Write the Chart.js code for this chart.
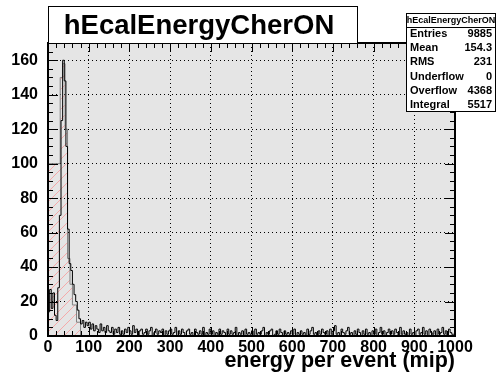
<!DOCTYPE html>
<html>
<head>
<meta charset="utf-8">
<script src="https://cdn.jsdelivr.net/npm/chart.js@4/dist/chart.umd.min.js"></script>
<style>
  html, body { margin: 0; padding: 0; background: #fff; }
  #wrap { width: 496px; height: 374px; position: relative; }
</style>
</head>
<body>
<div id="wrap"><canvas id="hist" width="496" height="374"></canvas></div>
<script>
// histogram contents, 4 mip per bin, 0..1000 mip
const binWidth = 4;
const counts = [
  22, 14, 27, 16, 25, 12, 9, 28, 70, 125, 160, 148, 110, 62, 42, 38, 30, 24, 20, 15, 10, 7, 9, 5, 8,
  6, 8, 4, 7, 3, 6, 4, 2, 7, 3, 5, 2, 6, 3, 2, 5, 1, 4, 2, 5, 1, 3, 1, 4, 2,
  5, 3, 1, 6, 2, 4, 0, 3, 4, 1, 2, 4, 1, 3, 5, 0, 2, 4, 1, 3, 2, 4, 0, 3, 1,
  3, 4, 1, 2, 5, 0, 3, 1, 4, 2, 0, 3, 4, 1, 2, 0, 4, 2, 1, 3, 1, 5, 0, 2, 1,
  4, 1, 3, 0, 2, 1, 4, 1, 3, 2, 0, 4, 1, 3, 1, 2, 5, 0, 2, 1, 3, 0, 4, 1, 2,
  1, 3, 0, 4, 1, 2, 1, 3, 5, 0, 2, 1, 3, 4, 0, 1, 3, 1, 4, 2, 0, 3, 1, 2, 1,
  3, 1, 4, 0, 2, 1, 3, 1, 2, 0, 4, 1, 3, 5, 1, 2, 0, 3, 1, 4, 2, 1, 3, 0, 4,
  1, 3, 6, 1, 2, 0, 4, 2, 1, 3, 5, 1, 2, 0, 3, 1, 4, 2, 0, 3, 1, 4, 1, 2, 0,
  3, 1, 4, 0, 2, 5, 1, 3, 0, 2, 4, 1, 3, 1, 4, 2, 0, 5, 1, 3, 1, 2, 0, 4, 1,
  2, 0, 3, 4, 1, 2, 5, 1, 3, 0, 4, 2, 1, 3, 0, 4, 1, 2, 5, 1, 3, 0, 4, 2, 1
];

// coarse hatched copy around the peak (low edges + contents)
const coarseEdges = [0, 30, 36, 42, 48, 54, 60, 70, 80, 90];
const coarseCounts = [20, 100, 150, 158, 120, 45, 30, 18, 8, 0];

const xTicks = [0, 100, 200, 300, 400, 500, 600, 700, 800, 900, 1000];
const yTicks = [0, 20, 40, 60, 80, 100, 120, 140, 160];

const histTitle = 'hEcalEnergyCherON';
const statLabels = ['Entries', 'Mean', 'RMS', 'Underflow', 'Overflow', 'Integral'];
const statValues = ['9885', '154.3', '231', '0', '4368', '5517'];

const FONT = '"Liberation Sans", Arial, Helvetica, sans-serif';

// step points: each bin starts at its low edge, last point closes the range
function stepPoints(edges, vals, hi) {
  const pts = edges.map((e, i) => ({ x: e, y: vals[i] }));
  pts.push({ x: hi, y: vals[vals.length - 1] });
  return pts;
}
const histEdges = counts.map((c, i) => i * binWidth);
const histPts = stepPoints(histEdges, counts, 1000);
const coarsePts = stepPoints(coarseEdges, coarseCounts, 100);

// red diagonal hatch
function hatchPattern() {
  const c = document.createElement('canvas');
  c.width = 10; c.height = 10;
  const g = c.getContext('2d');
  g.strokeStyle = 'rgb(245,170,170)';
  g.lineWidth = 1;
  g.beginPath();
  g.moveTo(0, 10); g.lineTo(10, 0);
  g.moveTo(-1, 1); g.lineTo(1, -1);
  g.moveTo(9, 11); g.lineTo(11, 9);
  g.stroke();
  return g.createPattern(c, 'repeat');
}

const framePlugin = {
  id: 'frame',
  beforeDraw(chart) {
    const { ctx, chartArea: a } = chart;
    ctx.save();
    ctx.fillStyle = '#fff';
    ctx.fillRect(0, 0, chart.width, chart.height);
    ctx.fillStyle = 'rgb(229,229,229)';
    ctx.fillRect(a.left, a.top, a.right - a.left, a.bottom - a.top);
    ctx.restore();
  },
  afterDatasetsDraw(chart) {
    const { ctx, chartArea: a, scales } = chart;
    const xs = scales.x, ys = scales.y;
    ctx.save();
    ctx.strokeStyle = '#000';
    ctx.lineWidth = 1;
    ctx.beginPath();
    // x ticks, major every 100, minor every 20, both sides
    for (let v = 0; v <= 1000; v += 20) {
      const px = Math.round(xs.getPixelForValue(v)) + 0.5;
      const len = v % 100 === 0 ? 9 : 5;
      ctx.moveTo(px, a.bottom); ctx.lineTo(px, a.bottom - len);
      ctx.moveTo(px, a.top); ctx.lineTo(px, a.top + len);
    }
    // y ticks, major every 20, minor every 5
    for (let v = 0; v <= 170; v += 5) {
      const py = Math.round(ys.getPixelForValue(v)) + 0.5;
      const len = v % 20 === 0 ? 10 : 5;
      ctx.moveTo(a.left, py); ctx.lineTo(a.left + len, py);
      ctx.moveTo(a.right, py); ctx.lineTo(a.right - len, py);
    }
    ctx.stroke();
    ctx.lineWidth = 2;
    ctx.strokeRect(a.left, a.top, a.right - a.left, a.bottom - a.top);
    ctx.restore();
  },
  afterDraw(chart) {
    const ctx = chart.ctx;
    ctx.save();
    // title box
    ctx.fillStyle = '#fff';
    ctx.fillRect(48, 6, 309, 37);
    ctx.strokeStyle = '#000';
    ctx.lineWidth = 1;
    ctx.strokeRect(48.5, 6.5, 309, 37);
    ctx.fillStyle = '#000';
    ctx.font = 'bold 27.5px ' + FONT;
    ctx.textAlign = 'center';
    ctx.textBaseline = 'middle';
    ctx.fillText(histTitle, 199, 26);

    // stats box
    ctx.fillStyle = '#fff';
    ctx.fillRect(406, 13, 89, 98);
    ctx.strokeRect(406.5, 13.5, 89, 98);
    ctx.beginPath();
    ctx.moveTo(406, 27.5); ctx.lineTo(495, 27.5);
    ctx.stroke();
    ctx.fillStyle = '#000';
    ctx.font = 'bold 9px ' + FONT;
    ctx.fillText(histTitle, 451, 20.5);
    ctx.font = 'bold 11px ' + FONT;
    statLabels.forEach((lab, i) => {
      const y = 34 + i * 14.2;
      ctx.textAlign = 'left';
      ctx.fillText(lab, 410, y);
      ctx.textAlign = 'right';
      ctx.fillText(statValues[i], 492, y);
    });
    ctx.restore();
  }
};

new Chart(document.getElementById('hist'), {
  type: 'line',
  data: {
    datasets: [
      {
        data: histPts,
        stepped: 'after',
        borderColor: '#000',
        borderWidth: 1,
        pointRadius: 0,
        fill: false,
        order: 1
      },
      {
        data: coarsePts,
        stepped: 'after',
        borderColor: 'rgb(130,130,130)',
        borderWidth: 1,
        backgroundColor: hatchPattern(),
        pointRadius: 0,
        fill: 'origin',
        order: 2
      }
    ]
  },
  options: {
    responsive: false,
    animation: false,
    devicePixelRatio: 1,
    layout: { padding: { left: 0, right: 41, top: 43, bottom: 0 } },
    plugins: { legend: { display: false }, tooltip: { enabled: false }, title: { display: false } },
    scales: {
      x: {
        type: 'linear',
        min: 0,
        max: 1000,
        afterFit(s) { s.height = 38; },
        afterBuildTicks(s) { s.ticks = xTicks.map(v => ({ value: v })); },
        grid: { color: '#000', lineWidth: 1, drawTicks: false },
        border: { display: false, dash: [1, 3] },
        ticks: {
          color: '#000',
          font: { family: FONT, size: 16, weight: 'bold' },
          padding: 2,
          maxRotation: 0,
          autoSkip: false,
          callback: v => String(v)
        },
        title: {
          display: true,
          text: 'energy per event (mip)',
          align: 'end',
          color: '#000',
          font: { family: FONT, size: 21.5, weight: 'bold' },
          padding: { top: -13, bottom: 0 }
        }
      },
      y: {
        type: 'linear',
        min: 0,
        max: 170,
        afterFit(s) { s.width = 48; },
        afterBuildTicks(s) { s.ticks = yTicks.map(v => ({ value: v })); },
        grid: { color: '#000', lineWidth: 1, drawTicks: false },
        border: { display: false, dash: [1, 3] },
        ticks: {
          color: '#000',
          font: { family: FONT, size: 16, weight: 'bold' },
          padding: 10
        }
      }
    }
  },
  plugins: [framePlugin]
});
</script>
</body>
</html>
